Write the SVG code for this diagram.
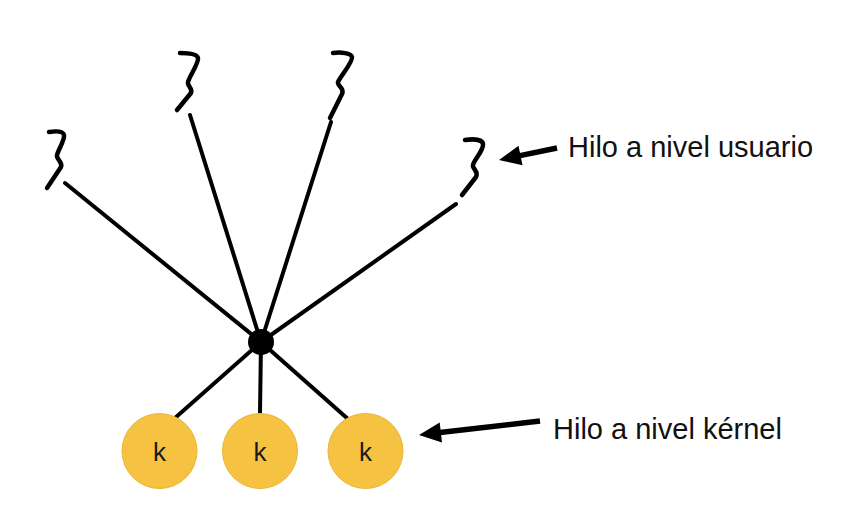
<svg xmlns="http://www.w3.org/2000/svg" width="860" height="522" viewBox="0 0 860 522">
<defs>
<style>
.ln{stroke:#000;stroke-width:4;stroke-linecap:round;fill:none}
.sq{stroke:#000;stroke-width:4.5;stroke-linecap:round;stroke-linejoin:round;fill:none}
.k{fill:#F5C242;stroke:#E8B53A;stroke-width:1}
.kt{font-family:"Liberation Sans",Arial,sans-serif;font-size:26px;fill:#1a1a1a;text-anchor:middle}
.lbl{font-family:"Liberation Sans",Arial,sans-serif;font-size:29px;fill:#111}
.ar{stroke:#000;stroke-width:5.5;fill:none}
.ah{fill:#000}
</style>
</defs>
<rect width="860" height="522" fill="#fff"/>
<g id="connectors">
<line class="ln" x1="65" y1="183" x2="261" y2="342"/>
<line class="ln" x1="190" y1="115" x2="261" y2="342"/>
<line class="ln" x1="331" y1="122" x2="261" y2="342"/>
<line class="ln" x1="456" y1="204" x2="261" y2="342"/>
<line class="ln" x1="261" y1="342" x2="175" y2="418"/>
<line class="ln" x1="261" y1="342" x2="260" y2="413"/>
<line class="ln" x1="261" y1="342" x2="348" y2="419"/>
<line class="ar" x1="557" y1="148" x2="520" y2="155.6"/>
<polygon class="ah" points="499,160 522.5,165.3 518.5,145.7"/>
<line class="ar" x1="540" y1="421" x2="440" y2="432.6"/>
<polygon class="ah" points="419,435 442,442.4 439.7,422.6"/>
</g>
<g id="u1"><path class="sq" d="M49,132 C56,131 63,131 64,135 C65,140 58,150 57,155 C56,159 63,162 61,167 L47,188"/></g>
<g id="u2"><path class="sq" d="M180,53 C188,53 197,54 198,58 C199,63 189,77 188,82 C187,86 193,88 191,93 L177,110"/></g>
<g id="u3"><path class="sq" d="M333,53 C341,52 351,53 352,57 C353,62 340,77 338,82 C337,86 345,88 342,94 L330,118"/></g>
<g id="u4"><path class="sq" d="M465,140 C472,139 482,139 483,144 C484,150 474,160 473,165 C472,169 479,171 476,177 L462,195"/></g>
<g id="hub"><circle cx="261" cy="342" r="13" fill="#000"/></g>
<g id="k1"><circle class="k" cx="159.5" cy="451" r="37.5"/><text class="kt" x="159.5" y="461">k</text></g>
<g id="k2"><circle class="k" cx="260" cy="451" r="37.5"/><text class="kt" x="260" y="461">k</text></g>
<g id="k3"><circle class="k" cx="365.5" cy="451" r="37.5"/><text class="kt" x="365.5" y="461">k</text></g>
<g id="label-user"><text class="lbl" x="568" y="157">Hilo a nivel usuario</text></g>
<g id="label-kernel"><text class="lbl" x="553" y="439">Hilo a nivel kérnel</text></g>
</svg>
